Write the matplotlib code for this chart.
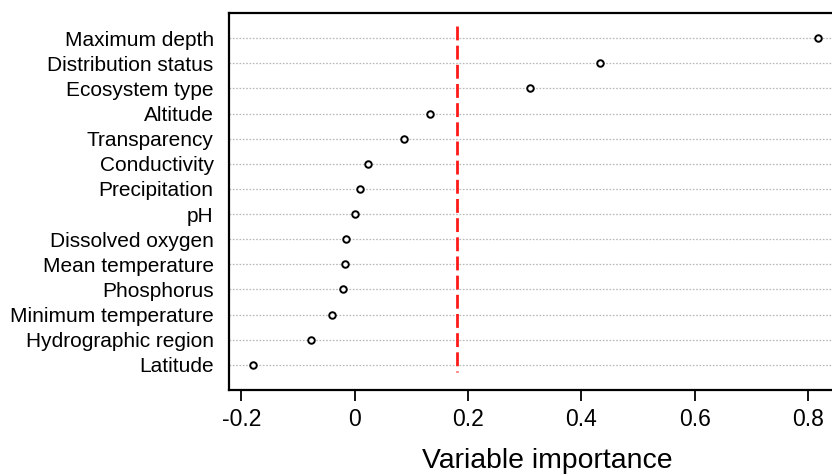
import matplotlib
matplotlib.use("Agg")
import matplotlib.pyplot as plt

plt.rcParams['font.family'] = ['Liberation Sans', 'DejaVu Sans']
plt.rcParams['lines.scale_dashes'] = False

variables = ["Maximum depth", "Distribution status", "Ecosystem type", "Altitude",
             "Transparency", "Conductivity", "Precipitation", "pH",
             "Dissolved oxygen", "Mean temperature", "Phosphorus",
             "Minimum temperature", "Hydrographic region", "Latitude"]
importance = [0.818, 0.432, 0.309, 0.132, 0.087, 0.023, 0.009, 0.0,
              -0.016, -0.018, -0.021, -0.041, -0.078, -0.180]
threshold = 0.181
xticks = [-0.2, 0, 0.2, 0.4, 0.6, 0.8]
xticklabels = ["-0.2", "0", "0.2", "0.4", "0.6", "0.8"]

n = len(variables)
ypos = list(range(n, 0, -1))

fig = plt.figure(figsize=(8.32, 4.76), dpi=100)
ax = fig.add_axes([229 / 832, 86 / 476, (841 - 229) / 832, (390 - 13) / 476])

for y in ypos:
    ax.axhline(y, color="#b8b8b8", lw=0.9, ls=(0, (1.2, 1.2)), zorder=1)

# drawn top-down so the dash pattern starts at the top
ax.plot([threshold, threshold], [14.5, 0.72], color="#ff1a1a", lw=2.0,
        dashes=(10, 3.8), zorder=2)

ax.scatter(importance, ypos, s=22, facecolors="white", edgecolors="black",
           linewidths=1.4, zorder=3)

ax.set_xlim(-0.222, 0.858)
ax.set_ylim(0, n + 1)
ax.set_yticks(ypos)
ax.set_yticklabels(variables, fontsize=15)
ax.tick_params(axis="y", length=0, pad=11)
ax.set_xticks(xticks)
ax.set_xticklabels(xticklabels, fontsize=16.5)
ax.tick_params(axis="x", length=8, width=1.3, pad=5)
for s in ax.spines.values():
    s.set_linewidth(1.6)
ax.set_xlabel("Variable importance", fontsize=20.4)
ax.xaxis.set_label_coords((547 - 229) / (841 - 229), -(448 - 390) / (390 - 13))

fig.savefig("out.png", dpi=100)
